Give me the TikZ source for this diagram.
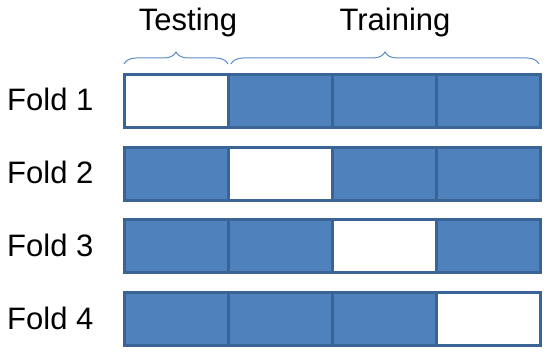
\documentclass[tikz,border=0pt]{standalone}
\usepackage{fontspec}
\setmainfont{Liberation Sans}
\usetikzlibrary{decorations.pathreplacing}
\definecolor{cellblue}{HTML}{4F81BD}
\definecolor{celledge}{HTML}{3A6495}
\definecolor{bracecol}{HTML}{5B8CCB}
\begin{document}
\begin{tikzpicture}[x=1pt,y=-1pt,
  cell/.style={draw=celledge,line width=2.8pt,minimum width=104pt,minimum height=53pt,inner sep=0pt,anchor=north west},
  train/.style={cell,fill=cellblue},
  test/.style={cell,fill=white},
  lbl/.style={font=\fontsize{31}{35}\selectfont,inner sep=0pt,anchor=base west},
  hdr/.style={font=\fontsize{31}{35}\selectfont,inner sep=0pt,anchor=base},
  bracestyle/.style={draw=bracecol,line width=1pt,decorate,decoration={brace,amplitude=12pt}}]
\useasboundingbox (0,0) rectangle (550,353);
\foreach \r/\y in {1/73,2/146,3/218,4/291}{
  \foreach \c/\x in {1/123,2/227,3/331,4/435}{
    \ifnum\r=\c
      \node[test] (c\r\c) at (\x,\y) {};
    \else
      \node[train] (c\r\c) at (\x,\y) {};
    \fi
  }
}
\foreach \r/\y in {1/111,2/184,3/256,4/329}{
  \node[lbl] (f\r) at (7,\y) {Fold \r};
}
\coordinate (b1s) at (124,64);
\coordinate (b1e) at (228,64);
\coordinate (b2s) at (231,64);
\coordinate (b2e) at (539,64);
\draw[bracestyle] (b1s) -- (b1e);
\draw[bracestyle] (b2s) -- (b2e);
\node[hdr] (tst) at (188,31) {Testing};
\node[hdr] (trn) at (395,31) {Training};
\end{tikzpicture}
\end{document}
